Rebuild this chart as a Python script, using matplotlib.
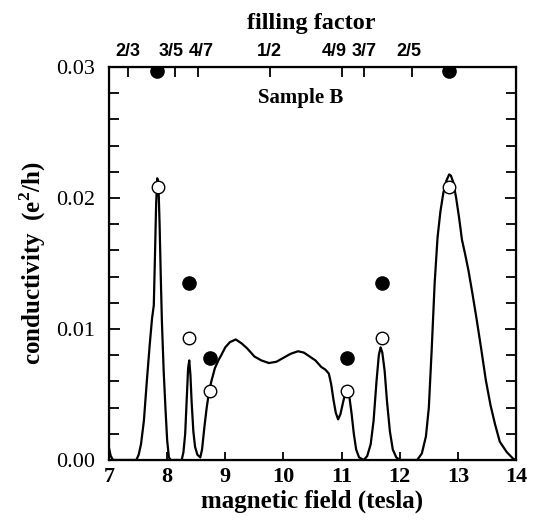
import matplotlib
matplotlib.use('Agg')
import numpy as np
from matplotlib import pyplot as plt
from matplotlib import font_manager
from matplotlib.ticker import MultipleLocator, FormatStrFormatter

# conductivity trace (field in tesla, conductivity in e^2/h)
field = [7.00, 7.03, 7.07, 7.47, 7.51, 7.55, 7.60, 7.65, 7.70, 7.74, 7.77,
         7.79, 7.81, 7.83, 7.85, 7.87, 7.89, 7.91, 7.94, 7.97, 8.00, 8.03, 8.06,
         8.25, 8.28, 8.31, 8.34, 8.36, 8.38, 8.40, 8.42, 8.45, 8.48, 8.52, 8.57,
         8.60, 8.64, 8.68, 8.72, 8.76, 8.82, 8.88, 8.93, 9.00, 9.08, 9.18, 9.28,
         9.38, 9.50, 9.62, 9.75, 9.88, 10.00, 10.12, 10.25, 10.35, 10.45, 10.55,
         10.65, 10.72, 10.78, 10.82, 10.86, 10.90, 10.94, 10.98, 11.03, 11.08,
         11.11, 11.14, 11.17, 11.21, 11.25, 11.30, 11.38, 11.44, 11.50, 11.55,
         11.60, 11.64, 11.67, 11.70, 11.74, 11.78, 11.83, 11.88, 11.94, 12.00,
         12.30, 12.38, 12.45, 12.50, 12.55, 12.60, 12.65, 12.70, 12.75, 12.80,
         12.85, 12.88, 12.92, 12.97, 13.02, 13.07, 13.12, 13.18, 13.25, 13.32,
         13.40, 13.48, 13.56, 13.64, 13.72, 13.84, 13.95, 14.00]
sigma = [0.0009, 0.0003, 0.0, 0.0, 0.0004, 0.0012, 0.0030, 0.0060, 0.0088, 0.0108, 0.0118,
         0.0155, 0.0195, 0.0215, 0.0210, 0.0180, 0.0140, 0.0105, 0.0068, 0.0040, 0.0015, 0.0002, 0.0,
         0.0, 0.0006, 0.0020, 0.0050, 0.0070, 0.0076, 0.0065, 0.0045, 0.0022, 0.0010, 0.0004, 0.0002,
         0.0008, 0.0025, 0.0040, 0.0052, 0.0060, 0.0070, 0.0076, 0.0080, 0.0086, 0.0090, 0.0092, 0.0089,
         0.0085, 0.0079, 0.0076, 0.0074, 0.0075, 0.0078, 0.0081, 0.0083, 0.0082, 0.0079, 0.0076,
         0.0071, 0.0069, 0.0066, 0.0058, 0.0046, 0.0036, 0.0031, 0.0035, 0.0045, 0.0054,
         0.0055, 0.0046, 0.0036, 0.0020, 0.0008, 0.0002, 0.0, 0.0003, 0.0012, 0.0030,
         0.0060, 0.0080, 0.0086, 0.0082, 0.0068, 0.0045, 0.0022, 0.0008, 0.0002, 0.0,
         0.0, 0.0005, 0.0018, 0.0040, 0.0085, 0.0135, 0.0170, 0.0190, 0.0204, 0.0213,
         0.0218, 0.0217, 0.0212, 0.0200, 0.0185, 0.0168, 0.0158, 0.0145, 0.0127, 0.0108,
         0.0085, 0.0061, 0.0042, 0.0027, 0.0014, 0.0006, 0.0001, 0.0]

# theory points
filled_field = [7.83, 8.38, 8.74, 11.10, 11.70, 12.85]
filled_sigma = [0.0297, 0.0135, 0.0078, 0.0078, 0.0135, 0.0297]
open_field = [7.85, 8.38, 8.74, 11.10, 11.70, 12.85]
open_sigma = [0.0208, 0.0093, 0.0053, 0.0053, 0.0093, 0.0208]

# filling factor axis on top: tick marks and where their labels sit
ff_positions = [7.32, 8.13, 8.53, 9.76, 11.00, 11.39, 12.21]
ff_label_pos = [7.32, 8.07, 8.58, 9.75, 10.88, 11.38, 12.16]
ff_labels = ['2/3', '3/5', '4/7', '1/2', '4/9', '3/7', '2/5']

plt.rcParams['font.family'] = ['Liberation Serif', 'DejaVu Serif']
plt.rcParams['mathtext.fontset'] = 'custom'
plt.rcParams['mathtext.rm'] = 'Liberation Serif'
plt.rcParams['mathtext.bf'] = 'Liberation Serif:bold'

# the top labels are set in a narrow sans; use it only if it is really installed
installed = {f.name for f in font_manager.fontManager.ttflist}
if 'Liberation Sans Narrow' in installed:
    ff_font = dict(family=['Liberation Sans Narrow'], fontsize=14.5)
else:
    ff_font = dict(family=['Liberation Sans'], fontsize=13)

fig = plt.figure(figsize=(5.37, 5.22), dpi=100)
ax = fig.add_axes([0.203, 0.1188, 0.758, 0.7529])

ax.plot(field, sigma, color='black', linewidth=1.6)
ax.plot(filled_field, filled_sigma, 'o', color='black', markersize=9.5, zorder=3)
ax.plot(open_field, open_sigma, 'o', markerfacecolor='white', markeredgecolor='black',
        markeredgewidth=1.0, markersize=9, zorder=3)

ax.set_xlim(7, 14)
ax.set_ylim(0, 0.03)
ax.xaxis.set_major_locator(MultipleLocator(1))
ax.yaxis.set_major_locator(MultipleLocator(0.01))
ax.yaxis.set_minor_locator(MultipleLocator(0.002))
ax.yaxis.set_major_formatter(FormatStrFormatter('%.2f'))
ax.tick_params(axis='x', which='both', direction='in', top=False, length=6, width=1.3, pad=5)
ax.tick_params(axis='y', which='both', direction='in', right=True, width=1.3, pad=10)
ax.tick_params(axis='y', which='major', length=8)
ax.tick_params(axis='y', which='minor', length=7)
for lab in ax.get_xticklabels():
    lab.set_fontsize(16)
    lab.set_fontweight('bold')
for lab in ax.get_yticklabels():
    lab.set_fontsize(16)
for sp in ax.spines.values():
    sp.set_linewidth(1.6)

ax.set_xlabel('magnetic field (tesla)', fontsize=18, fontweight='bold', labelpad=2)
ax.set_ylabel(r'conductivity  (e$^\mathbf{2}$/h)', fontsize=18, fontweight='bold', labelpad=6)
ax.text(10.29, 0.0276, 'Sample B', fontsize=15, fontweight='bold', ha='center', va='center')

# top axis carrying the filling factor ticks
ax2 = ax.twiny()
ax2.set_xlim(7, 14)
ax2.set_xticks(ff_positions)
ax2.tick_params(axis='x', direction='in', length=7, width=1.3, labeltop=False)
for xpos, lab in zip(ff_label_pos, ff_labels):
    ax.text(xpos, 1.027, lab, transform=ax.get_xaxis_transform(), ha='center',
            va='baseline', fontweight='bold', **ff_font)
fig.text(0.579, 1 - 29 / 522, 'filling factor', ha='center', va='baseline',
         fontsize=17.5, fontweight='bold')

fig.savefig('out.png', dpi=100)
